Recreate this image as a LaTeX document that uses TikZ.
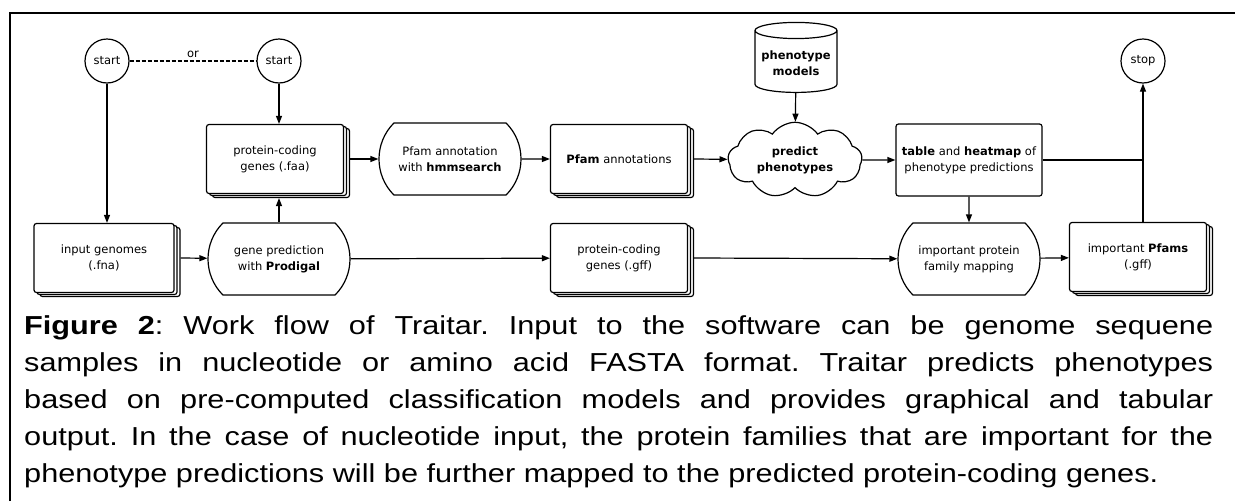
\documentclass[tikz,border=0pt]{standalone}
\usepackage{fontspec}
\setmainfont{DejaVu Sans}
\newfontfamily\capfont[FakeStretch=1.18]{Liberation Sans}
\usepackage{tikz}
\usetikzlibrary{arrows.meta,positioning,calc,shapes.misc,shapes.geometric,shapes.symbols,shadows}
\frenchspacing

\tikzset{
  base/.style={draw, line width=1.2pt, fill=white, align=center, inner sep=2pt,
    font=\fontsize{11.5}{16}\selectfont},
  startstop/.style={base, circle, minimum size=44pt},
  filebox/.style={base, rectangle, rounded corners=2.5pt, minimum width=137pt, minimum height=69pt,
    double copy shadow={shadow xshift=3pt, shadow yshift=-2pt}},
  tablebox/.style={base, rectangle, rounded corners=2.5pt, minimum width=146pt, minimum height=72pt},
  procbox/.style={base, rounded rectangle, rounded rectangle arc length=90,
    minimum width=146pt, minimum height=72pt},
  dbase/.style={base, cylinder, shape border rotate=90, aspect=0.22,
    minimum width=82pt, minimum height=70pt},
  cloudbox/.style={base, cloud, cloud puffs=9, cloud puff arc=110, aspect=1.8,
    minimum width=134pt, minimum height=74pt, inner sep=0pt},
  flow/.style={line width=1.2pt, -{Triangle[length=8pt,width=6pt]}},
  link/.style={line width=1.2pt}
}

\begin{document}
\begin{tikzpicture}[x=1pt, y=-1pt]
\useasboundingbox (0,0) rectangle (1235,501);
% frame, top and left only
\draw[line width=2pt] (10,501) -- (10,13) -- (1235,13);

% start / stop
\node[startstop] (start1) at (107,61) {start};
\node[startstop] (start2) at (279,61) {start};
\node[startstop] (stop) at (1143,61) {stop};
\node[dbase] (models) at (796,63) {\textbf{phenotype}\\\textbf{models}};

% upper row
\node[filebox] (faa) at (275,159) {protein-coding\\genes (.faa)};
\node[procbox] (hmm) at (450,159) {Pfam annotation\\with \textbf{hmmsearch}};
\node[filebox] (annot) at (619,159) {\textbf{Pfam} annotations};
\node[cloudbox] (predict) at (795,160) {\textbf{predict}\\\textbf{phenotypes}};
\node[tablebox] (table) at (969,160) {\textbf{table} and \textbf{heatmap} of\\phenotype predictions};

% lower row
\node[filebox, minimum width=140pt] (fna) at (104,258) {input genomes\\(.fna)};
\node[procbox] (prodigal) at (279,259) {gene prediction\\with \textbf{Prodigal}};
\node[filebox] (gff) at (619,258) {protein-coding\\genes (.gff)};
\node[procbox] (mapping) at (969,259) {important protein\\family mapping};
\node[filebox] (pfams) at (1138,257) {important \textbf{Pfams}\\(.gff)};

% connectors
\draw[link, dash pattern=on 4pt off 2pt] (start1) -- node[above, inner sep=3pt, font=\fontsize{11.5}{14}\selectfont] (or) {or} (start2);
\draw[flow] (start1) -- (start1 |- fna.north);
\draw[flow] (start2) -- (start2 |- faa.north);
\draw[flow] (prodigal.north) -- ($(prodigal.north |- faa.south)+(0,4)$);
\draw[flow] ($(faa.east)+(6,0)$) -- (hmm);
\draw[flow] (hmm) -- (annot);
\draw[flow] ($(annot.east)+(6,0)$) -- (predict);
\draw[flow] (models) -- (predict);
\draw[flow] (predict) -- (table);
\draw[flow] (table) -- (mapping);
\draw[link] (table.east) -- (table.east -| stop);
\draw[flow] (pfams.north -| stop) -- (stop);
\draw[flow] ($(fna.east)+(6,0)$) -- (prodigal);
\draw[flow] (prodigal) -- (gff);
\draw[flow] ($(gff.east)+(6,0)$) -- (mapping);
\draw[flow] (mapping) -- (pfams);

% caption
\node[text width=1189pt, align=justify, anchor=north west, inner sep=0pt,
  font=\capfont\fontsize{26}{37}\selectfont] (caption) at (24,315.5)
  {\textbf{Figure 2}: Work flow of Traitar. Input to the software can be genome sequene\linebreak
   samples in nucleotide or amino acid FASTA format. Traitar predicts phenotypes\linebreak
   based on pre-computed classification models and provides graphical and tabular\linebreak
   output. In the case of nucleotide input, the protein families that are important for the\linebreak
   phenotype predictions will be further mapped to the predicted protein-coding genes.};
\end{tikzpicture}
\end{document}
